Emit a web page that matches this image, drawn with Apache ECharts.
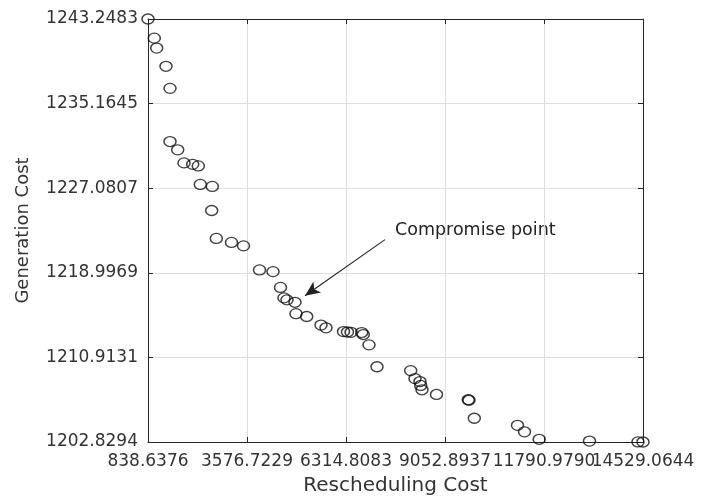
<!DOCTYPE html>
<html>
<head>
<meta charset="utf-8">
<script src="https://cdn.jsdelivr.net/npm/echarts@6/dist/echarts.min.js"></script>
<style>html,body{margin:0;padding:0;background:#fff}#c{width:712px;height:501px}</style>
</head>
<body>
<div id="c"></div>
<script>
// Tick labels (as printed on the axes)
const xTickLabels = ["838.6376","3576.7229","6314.8083","9052.8937","11790.9790","14529.0644"];
const yTickLabels = ["1202.8294","1210.9131","1218.9969","1227.0807","1235.1645","1243.2483"];

// Pareto front: rescheduling cost (x) and generation cost (y)
const reschedulingCost = [
  838.64, 1012.9, 1079.3, 1336.5, 1447.1, 1447.1, 1660.0, 1834.3, 2074.9, 2229.8,
  2285.1, 2617.0, 2600.4, 2727.6, 3148.0, 3479.8, 3922.4, 4295.8, 4503.2, 4600.0,
  4683.0, 4904.2, 4931.9, 5227.8, 5623.3, 5761.6, 6245.6, 6356.2, 6453.0, 6748.9,
  6793.2, 6950.8, 7172.1, 8104.1, 8223.0, 8361.3, 8380.7, 8416.6, 8817.6, 9697.1,
  9716.5, 9863.1, 11057.9, 11251.5, 11658.0, 13049.2, 14390.5, 14529.06
];
const generationCost = [
  1243.248, 1241.42, 1240.47, 1238.73, 1236.62, 1231.54, 1230.75, 1229.50, 1229.36, 1229.21,
  1227.44, 1227.25, 1224.95, 1222.28, 1221.90, 1221.57, 1219.27, 1219.11, 1217.60, 1216.60,
  1216.41, 1216.18, 1215.09, 1214.82, 1214.00, 1213.74, 1213.38, 1213.34, 1213.31, 1213.29,
  1213.10, 1212.11, 1210.02, 1209.65, 1208.89, 1208.60, 1208.23, 1207.82, 1207.37, 1206.87,
  1206.82, 1205.10, 1204.42, 1203.80, 1203.09, 1202.92, 1202.84, 1202.83
];

// Annotation
const annotationText = "Compromise point";
const arrowFrom = [7393.3, 1222.17];
const arrowTo = [5180.8, 1216.81];

const x0 = parseFloat(xTickLabels[0]);
const y0 = parseFloat(yTickLabels[0]);
const xInterval = (parseFloat(xTickLabels[xTickLabels.length-1]) - x0) / (xTickLabels.length-1);
const yInterval = (parseFloat(yTickLabels[yTickLabels.length-1]) - y0) / (yTickLabels.length-1);
const xMax = xInterval * (xTickLabels.length-1);
const yMax = yInterval * (yTickLabels.length-1);

const pts = reschedulingCost.map((x, i) => [x - x0, generationCost[i] - y0]);

const FONT = 'DejaVu Sans';
const TXT = '#333';
const AX = '#262626';

function xAxisDef(pos, labels) {
  return {
    type: 'value', position: pos, min: 0, max: xMax, interval: xInterval,
    axisLine: {show: true, onZero: false, lineStyle: {color: AX, width: 1}},
    axisTick: {show: true, inside: true, length: 5, lineStyle: {color: AX}},
    splitLine: {show: labels, lineStyle: {color: '#dedede', width: 1}},
    axisLabel: {show: labels, margin: 11, fontFamily: FONT, fontSize: 17, color: TXT,
      formatter: v => xTickLabels[Math.round(v / xInterval)]},
    name: labels ? 'Rescheduling Cost' : '', nameLocation: 'middle', nameGap: 34,
    nameTextStyle: {fontFamily: FONT, fontSize: 20, color: TXT}
  };
}
function yAxisDef(pos, labels) {
  return {
    type: 'value', position: pos, min: 0, max: yMax, interval: yInterval,
    axisLine: {show: true, onZero: false, lineStyle: {color: AX, width: 1}},
    axisTick: {show: true, inside: true, length: 5, lineStyle: {color: AX}},
    splitLine: {show: labels, lineStyle: {color: '#dedede', width: 1}},
    axisLabel: {show: labels, margin: 10, fontFamily: FONT, fontSize: 17, color: TXT,
      formatter: v => yTickLabels[Math.round(v / yInterval)]},
    name: labels ? 'Generation Cost' : '', nameLocation: 'middle', nameGap: 116,
    nameTextStyle: {fontFamily: FONT, fontSize: 18, color: TXT}
  };
}

const chart = echarts.init(document.getElementById('c'), null, {renderer: 'canvas'});
chart.setOption({
  animation: false,
  backgroundColor: '#fff',
  grid: {left: 148, top: 19, right: 69, bottom: 55},
  xAxis: [xAxisDef('bottom', true), xAxisDef('top', false)],
  yAxis: [yAxisDef('left', true), yAxisDef('right', false)],
  graphic: [{
    type: 'text', left: 395, top: 221,
    style: {text: annotationText, font: '17.5px "DejaVu Sans"', fill: '#222'}
  }],
  series: [{
    type: 'scatter', xAxisIndex: 0, yAxisIndex: 0,
    data: pts, clip: false,
    symbol: 'circle', symbolSize: [12, 10],
    itemStyle: {color: 'rgba(0,0,0,0)', borderColor: '#111', borderWidth: 1.4},
    markLine: {
      silent: true, animation: false,
      symbol: ['none', 'arrow'], symbolSize: [10, 15],
      lineStyle: {color: '#222', width: 1.1, type: 'solid'},
      label: {show: false},
      data: [[
        {coord: [arrowFrom[0] - x0, arrowFrom[1] - y0]},
        {coord: [arrowTo[0] - x0, arrowTo[1] - y0]}
      ]]
    }
  }]
});
</script>
</body>
</html>
